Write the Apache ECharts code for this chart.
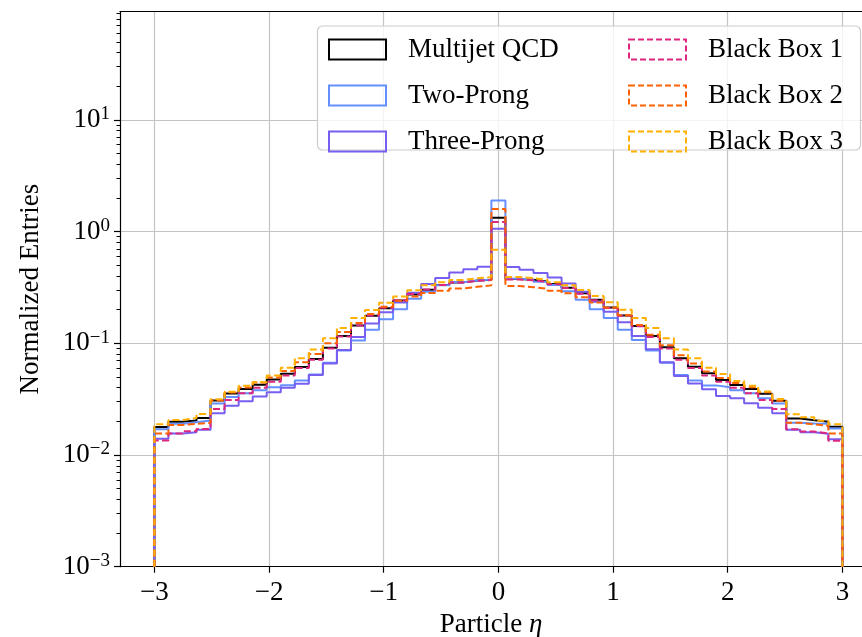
<!DOCTYPE html>
<html>
<head>
<meta charset="utf-8">
<script src="https://cdn.jsdelivr.net/npm/echarts@6/dist/echarts.min.js"></script>
<style>
  html, body { margin: 0; padding: 0; background: #ffffff; }
  #chart { width: 862px; height: 637px; }
</style>
</head>
<body>
<div id="chart"></div>
<script>
// Histogram binning of particle pseudorapidity
const etaMin = -3;
const etaMax = 3;
const nBins = 49;

// Axis ticks and visible ranges
const xTickValues = [-3, -2, -1, 0, 1, 2, 3];
const xViewMin = -3.3;
const xViewMax = 3.171;
const yTickValues = [1e-3, 1e-2, 1e-1, 1, 10];
const yMin = 1e-3;
const yMax = 93;

// Normalized bin contents, one value per bin (49 bins from -3 to 3)
const multijetQCD = [
  0.0178, 0.0198, 0.0204, 0.0214, 0.0307, 0.0356, 0.0390, 0.0426, 0.0475, 0.0535,
  0.0612, 0.0722, 0.0912, 0.116, 0.144, 0.176, 0.206, 0.241, 0.274, 0.302,
  0.332, 0.351, 0.364, 0.371,
  1.33,
  0.377, 0.370, 0.358, 0.340, 0.315, 0.280, 0.245, 0.209, 0.177, 0.143,
  0.116, 0.092, 0.0735, 0.0618, 0.0538, 0.0470, 0.0423, 0.0389, 0.0353, 0.0306,
  0.0212, 0.0205, 0.0198, 0.0179
];
const twoProng = [
  0.0170, 0.0190, 0.0196, 0.0204, 0.0289, 0.0330, 0.0357, 0.0380, 0.0404, 0.0422,
  0.0465, 0.0525, 0.0670, 0.0860, 0.106, 0.132, 0.164, 0.202, 0.250, 0.290,
  0.330, 0.352, 0.365, 0.372,
  1.90,
  0.378, 0.371, 0.356, 0.333, 0.292, 0.245, 0.202, 0.168, 0.132, 0.107,
  0.086, 0.067, 0.052, 0.0465, 0.0420, 0.0404, 0.0380, 0.0357, 0.0322, 0.0289,
  0.0194, 0.0191, 0.0190, 0.0173
];
const threeProng = [
  0.0140, 0.0156, 0.0160, 0.0168, 0.0236, 0.0276, 0.0303, 0.0334, 0.0365, 0.0400,
  0.0435, 0.0520, 0.0660, 0.0870, 0.114, 0.150, 0.190, 0.232, 0.284, 0.340,
  0.385, 0.430, 0.460, 0.485,
  1.06,
  0.482, 0.456, 0.425, 0.388, 0.343, 0.290, 0.236, 0.192, 0.154, 0.116,
  0.0885, 0.0675, 0.0510, 0.0437, 0.0387, 0.0338, 0.0322, 0.0290, 0.0265, 0.0236,
  0.0168, 0.0160, 0.0155, 0.0138
];
const blackBox1 = [
  0.0135, 0.0156, 0.0163, 0.0171, 0.0258, 0.0310, 0.0357, 0.0400, 0.0452, 0.0515,
  0.0600, 0.0712, 0.0900, 0.115, 0.144, 0.177, 0.208, 0.243, 0.276, 0.303,
  0.333, 0.350, 0.362, 0.368,
  1.22,
  0.372, 0.366, 0.355, 0.338, 0.312, 0.277, 0.243, 0.207, 0.176, 0.142,
  0.114, 0.090, 0.0712, 0.0600, 0.0515, 0.0452, 0.0400, 0.0357, 0.0310, 0.0258,
  0.0170, 0.0162, 0.0156, 0.0134
];
const blackBox2 = [
  0.0156, 0.0186, 0.0190, 0.0194, 0.0307, 0.0362, 0.0403, 0.0445, 0.0495, 0.0565,
  0.0675, 0.0800, 0.100, 0.126, 0.152, 0.183, 0.212, 0.240, 0.262, 0.282,
  0.296, 0.310, 0.320, 0.330,
  1.59,
  0.325, 0.318, 0.308, 0.295, 0.280, 0.258, 0.232, 0.209, 0.178, 0.146,
  0.119, 0.096, 0.078, 0.066, 0.0560, 0.0490, 0.0440, 0.0405, 0.0365, 0.0306,
  0.0194, 0.0188, 0.0183, 0.0156
];
const blackBox3 = [
  0.0188, 0.0206, 0.0214, 0.0233, 0.0315, 0.0369, 0.0416, 0.0450, 0.0515, 0.0605,
  0.0735, 0.0880, 0.111, 0.137, 0.168, 0.199, 0.231, 0.262, 0.298, 0.330,
  0.352, 0.369, 0.382, 0.392,
  0.686,
  0.392, 0.383, 0.370, 0.352, 0.330, 0.300, 0.265, 0.233, 0.200, 0.168,
  0.137, 0.111, 0.0880, 0.0735, 0.0605, 0.0531, 0.0460, 0.0416, 0.0370, 0.0317,
  0.0232, 0.0218, 0.0203, 0.0188
];

const seriesNames = ['Multijet QCD', 'Two-Prong', 'Three-Prong', 'Black Box 1', 'Black Box 2', 'Black Box 3'];
const seriesValues = [multijetQCD, twoProng, threeProng, blackBox1, blackBox2, blackBox3];
const seriesColors = ['#000000', '#648FFF', '#785EF0', '#DC267F', '#FE6100', '#FFB000'];
const seriesDashed = [false, false, false, true, true, true];

const FONT = "'Liberation Serif', 'DejaVu Serif', serif";
const DASH = [7, 3.3];
const GRID_COLOR = '#c4c4c4';

// Step outline of a histogram: rises from the axis floor at the first edge,
// runs flat across each bin and drops back to the floor after the last edge.
const binWidth = (etaMax - etaMin) / nBins;
function stepOutline(values) {
  const pts = [[etaMin, yMin]];
  values.forEach((v, i) => {
    pts.push([etaMin + i * binWidth, v]);
    pts.push([etaMin + (i + 1) * binWidth, v]);
  });
  pts.push([etaMax, yMin]);
  return pts;
}

// Minor ticks at 2..9 times each power of ten
const yMinorTicks = [];
for (let e = -3; e <= 1; e++) {
  for (let m = 2; m <= 9; m++) {
    const v = m * Math.pow(10, e);
    if (v <= yMax) yMinorTicks.push(v);
  }
}

function fmtSigned(v) {
  return v < 0 ? '\u2212' + Math.abs(v) : String(v);
}

const series = seriesNames.map((name, i) => ({
  type: 'line',
  name: name,
  data: stepOutline(seriesValues[i]),
  xAxisIndex: 0,
  yAxisIndex: 0,
  symbol: 'none',
  showSymbol: false,
  silent: true,
  clip: true,
  z: 2,
  lineStyle: {
    color: seriesColors[i],
    width: 2,
    type: seriesDashed[i] ? DASH : 'solid'
  },
  itemStyle: { color: seriesColors[i] },
  emphasis: { disabled: true }
}));

function legendItems(from, to) {
  const items = [];
  for (let i = from; i < to; i++) {
    items.push({
      name: seriesNames[i],
      icon: 'rect',
      itemStyle: {
        color: 'rgba(0,0,0,0)',
        borderColor: seriesColors[i],
        borderWidth: 2,
        borderType: seriesDashed[i] ? [6, 3] : 'solid'
      }
    });
  }
  return items;
}

const legendCommon = {
  orient: 'vertical',
  top: 36,
  itemWidth: 57,
  itemHeight: 20,
  itemGap: 19,
  padding: 0,
  selectedMode: false,
  symbolKeepAspect: false,
  z: 6,
  formatter: n => '{g|}{t|' + n + '}',
  textStyle: {
    rich: {
      g: { width: 17 },
      t: { fontFamily: FONT, fontSize: 27, lineHeight: 20, color: '#000' }
    }
  }
};

const option = {
  backgroundColor: '#ffffff',
  animation: false,
  grid: {
    left: 120,
    top: 11.7,
    right: 0,
    height: 555,
    show: false,
    containLabel: false,
    outerBoundsMode: 'none'
  },
  xAxis: [
    {
      type: 'value',
      min: xViewMin,
      max: xViewMax,
      position: 'bottom',
      name: 'Particle {i|\u03b7}',
      nameLocation: 'middle',
      nameGap: 43,
      nameTextStyle: {
        fontFamily: FONT, fontSize: 27, color: '#000',
        rich: { i: { fontFamily: FONT, fontSize: 27, fontStyle: 'italic', color: '#000' } }
      },
      axisLine: { show: true, onZero: false, lineStyle: { color: '#000', width: 1.2 } },
      axisTick: { show: true, length: 6, customValues: xTickValues, lineStyle: { color: '#000', width: 1.2 } },
      axisLabel: {
        customValues: xTickValues,
        margin: 13,
        fontFamily: FONT, fontSize: 27, color: '#000',
        formatter: v => fmtSigned(v)
      },
      splitLine: { show: true, lineStyle: { color: GRID_COLOR, width: 1.2 } }
    },
    {
      // top frame line of the plotting area
      type: 'value',
      min: xViewMin,
      max: xViewMax,
      position: 'top',
      axisLine: { show: true, onZero: false, lineStyle: { color: '#000', width: 1.2 } },
      axisTick: { show: false },
      axisLabel: { show: false },
      splitLine: { show: false }
    }
  ],
  yAxis: [
    {
      type: 'log',
      logBase: 10,
      min: yMin,
      max: yMax,
      position: 'left',
      name: 'Normalized Entries',
      nameLocation: 'middle',
      nameGap: 76,
      nameTextStyle: { fontFamily: FONT, fontSize: 27, color: '#000' },
      axisLine: { show: true, onZero: false, lineStyle: { color: '#000', width: 1.2 } },
      axisTick: { show: true, length: 6, customValues: yTickValues, lineStyle: { color: '#000', width: 1.2 } },
      axisLabel: {
        customValues: yTickValues,
        margin: 10,
        formatter: v => {
          const e = Math.round(Math.log10(v));
          return '{b|10}{s|' + fmtSigned(e) + '}';
        },
        rich: {
          b: { fontFamily: FONT, fontSize: 27, lineHeight: 30, color: '#000' },
          s: { fontFamily: FONT, fontSize: 19, lineHeight: 18, verticalAlign: 'top', color: '#000' }
        }
      },
      splitLine: { show: true, lineStyle: { color: GRID_COLOR, width: 1.2 } }
    },
    {
      // minor ticks of the log axis
      type: 'log',
      logBase: 10,
      min: yMin,
      max: yMax,
      position: 'left',
      offset: 0,
      axisLine: { show: false, onZero: false },
      axisTick: { show: true, length: 3.5, customValues: yMinorTicks, lineStyle: { color: '#000', width: 1 } },
      axisLabel: { show: false },
      splitLine: { show: false }
    }
  ],
  legend: [
    Object.assign({}, legendCommon, { left: 328, data: legendItems(0, 3) }),
    Object.assign({}, legendCommon, { left: 628, data: legendItems(3, 6) })
  ],
  graphic: [
    {
      type: 'rect',
      z: 5,
      silent: true,
      shape: { x: 317.5, y: 26, width: 543, height: 124, r: 5 },
      style: { fill: 'rgba(255,255,255,0.8)', stroke: '#cccccc', lineWidth: 1.2 }
    }
  ],
  series: series
};

const chart = echarts.init(document.getElementById('chart'));
chart.setOption(option);
</script>
</body>
</html>
